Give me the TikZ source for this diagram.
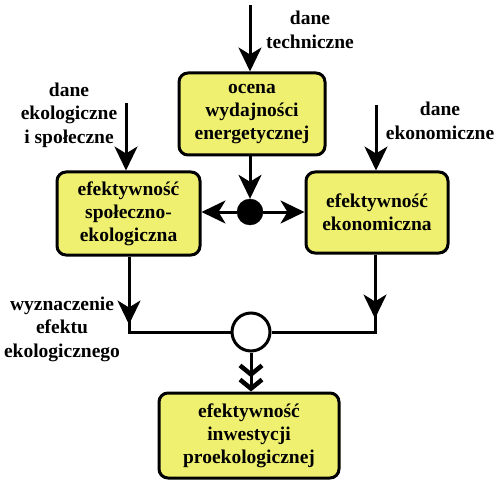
\documentclass[tikz,border=0pt]{standalone}
\usepackage{fontspec}
\setmainfont{Liberation Serif}[BoldFont={Liberation Serif Bold}]
\usetikzlibrary{arrows.meta,decorations.markings}
\definecolor{boxyellow}{RGB}{240,240,112}
\tikzset{
  box/.style={draw=black, line width=3pt, fill=boxyellow, rounded corners=9pt,
    align=center, font=\fontsize{19.5}{23}\selectfont\bfseries, inner sep=2pt},
  lbl/.style={align=center, font=\fontsize{19.5}{23.5}\selectfont\bfseries, inner sep=0pt},
  conn/.style={line width=3pt},
  bigtip/.style={-{Stealth[length=24pt,width=23pt,inset=7pt]}},
}
\begin{document}
\begin{tikzpicture}[x=1pt,y=-1pt]
\useasboundingbox (0,0) rectangle (500,489);
% boxes
\node[box, minimum width=146pt, minimum height=82pt] (oc) at (252,114) {ocena\\wydajności\\energetycznej};
\node[box, minimum width=143pt, minimum height=83pt] (sp) at (128.5,213.5) {efektywność\\społeczno-\\ekologiczna};
\node[box, minimum width=142pt, minimum height=81pt] (ek) at (377,212.5) {efektywność\\ekonomiczna};
\node[box, minimum width=180pt, minimum height=85pt] (in) at (249,435.5) {efektywność\\inwestycji\\proekologicznej};
% junctions
\node[circle, fill=black, draw=black, minimum size=26pt, inner sep=0pt] (dot) at (250,212) {};
\node[circle, fill=white, draw=black, line width=3pt, minimum size=38pt, inner sep=0pt] (wc) at (251,332) {};
% labels
\node[lbl] (l1) at (310,30) {dane\\techniczne};
\node[lbl] (l2) at (69,115) {dane\\ekologiczne\\i społeczne};
\node[lbl] (l3) at (440,121) {dane\\ekonomiczne};
\node[lbl] (l4) at (62,329) {wyznaczenie\\efektu\\ekologicznego};
% input coordinates
\coordinate (t1) at (250,5);
\coordinate (t2) at (126,103);
\coordinate (t3) at (376,105);
\draw[conn,bigtip] (t1) -- (oc.north -| t1);
\draw[conn,bigtip] (t2) -- (sp.north -| t2);
\draw[conn,bigtip] (t3) -- (ek.north -| t3);
% central distribution
\draw[conn,bigtip] (oc.south -| dot) -- (dot.north);
\draw[conn,bigtip] (dot.west) -- (sp.east |- dot);
\draw[conn,bigtip] (dot.east) -- (ek.west |- dot);
% lower lines
\coordinate (cl) at (129,332);
\coordinate (cr) at (375,332);
\draw[conn, postaction={decorate}, decoration={markings, mark=at position 68pt with {\arrow{Stealth[length=24pt,width=23pt,inset=7pt]}}}]
  (sp.south -| cl) -- (cl) -- (wc.west);
\draw[conn, postaction={decorate}, decoration={markings, mark=at position 64pt with {\arrow{Stealth[length=24pt,width=23pt,inset=7pt]}}}]
  (ek.south -| cr) -- (cr) -- (wc.east);
\draw[conn,-{Straight Barb[length=9pt,width=22pt,line width=4.5pt]Straight Barb[length=9pt,width=22pt,line width=4.5pt]}] (wc.south) -- (in.north -| wc);
\end{tikzpicture}
\end{document}
